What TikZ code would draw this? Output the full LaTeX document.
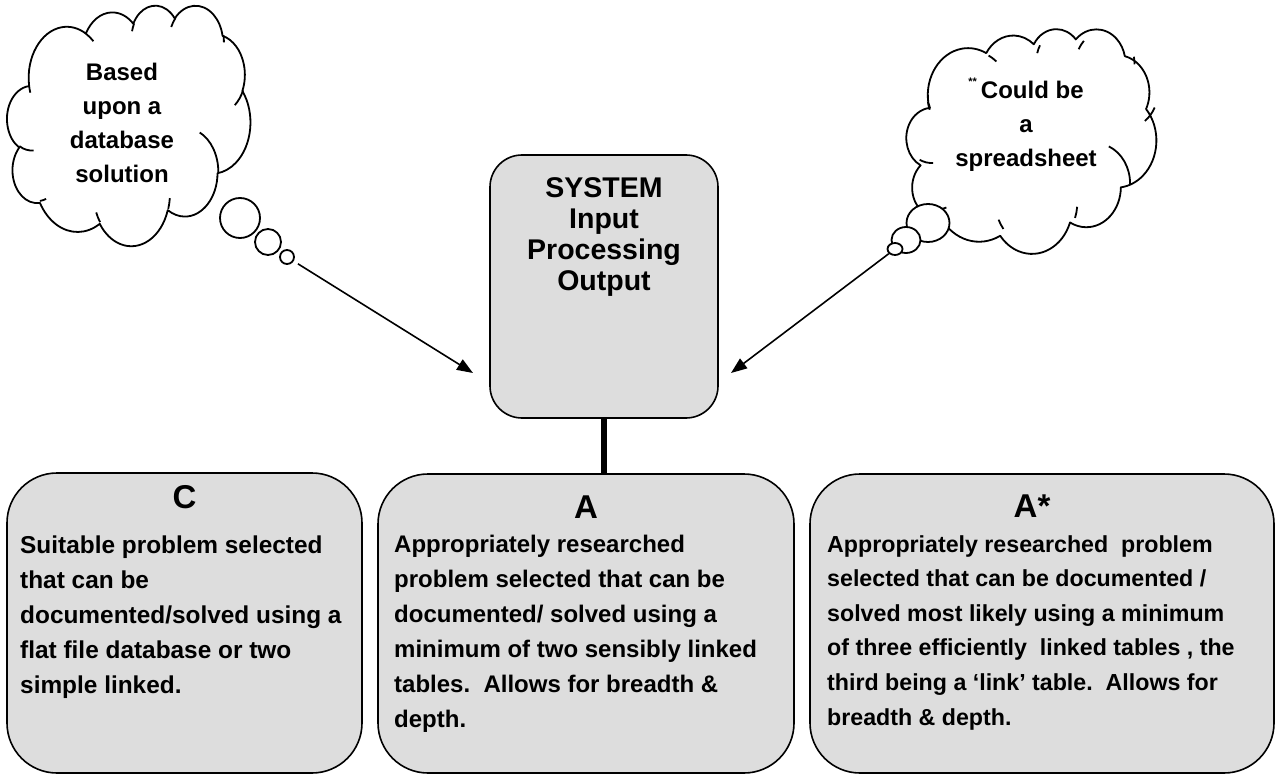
\documentclass[tikz,border=0pt]{standalone}
\usepackage{fontspec}
\setmainfont{Liberation Sans}
\usetikzlibrary{arrows.meta,shapes.geometric}
\definecolor{boxgray}{RGB}{221,221,221}

% ---- Word-style cloud outline (preset geometry, 43200 units) ----
\def\cldpath{}
\newcommand\CldMove[2]{%
  \xdef\cldpath{\cldpath (\fpeval{round(\cldX+(#1)*\cldW/43200,3)},\fpeval{round(\cldY+(#2)*\cldH/43200,3)})}%
}
\newcommand\CldArc[4]{%
  \edef\cldRX{\fpeval{(#1)*\cldW/43200}}%
  \edef\cldRY{\fpeval{(#2)*\cldH/43200}}%
  \edef\cldST{\fpeval{(#3)/60000}}%
  \edef\cldEN{\fpeval{((#3)+(#4))/60000}}%
  \edef\cldA{\fpeval{atand(\cldRX*sind(\cldST),\cldRY*cosd(\cldST))}}%
  \edef\cldB{\fpeval{atand(\cldRX*sind(\cldEN),\cldRY*cosd(\cldEN))}}%
  \edef\cldB{\fpeval{round(((#4)>0) ? ((\cldB<\cldA) ? \cldB+360 : \cldB) : ((\cldB>\cldA) ? \cldB-360 : \cldB),4)}}%
  \edef\cldA{\fpeval{round(\cldA,4)}}%
  \xdef\cldpath{\cldpath arc[x radius=\fpeval{round(\cldRX,3)}, y radius=\fpeval{round(\cldRY,3)}, start angle=\cldA, end angle=\cldB]}%
}
\newcommand\BuildCloud[4]{%
  \def\cldX{#1}\def\cldY{#2}\def\cldW{#3}\def\cldH{#4}%
  \gdef\cldpath{}%
  \CldMove{3900}{14370}%
  \CldArc{6753}{9190}{-11429249}{7426832}%
  \CldArc{5333}{7267}{-8646143}{5396714}%
  \CldArc{4365}{5945}{-8748475}{5983381}%
  \CldArc{4857}{6595}{-7859164}{7034504}%
  \CldArc{5333}{7273}{-4722533}{6541615}%
  \CldArc{6775}{9220}{-2776035}{7816140}%
  \CldArc{5785}{7867}{37501}{6842000}%
  \CldArc{6752}{9215}{1347096}{6910353}%
  \CldArc{7720}{10543}{3974558}{4542661}%
  \CldArc{4360}{5918}{-16496525}{8804134}%
  \CldArc{4345}{5945}{-14809710}{9151131}%
  \xdef\cldouter{\cldpath -- cycle}%
  \gdef\cldpath{}%
  \CldMove{4693}{26177}\CldArc{4345}{5945}{5204520}{1585770}%
  \CldMove{6928}{34899}\CldArc{4360}{5918}{4416628}{686848}%
  \CldMove{16478}{39090}\CldArc{6752}{9215}{8257449}{844866}%
  \CldMove{28827}{34751}\CldArc{6752}{9215}{387196}{959901}%
  \CldMove{34129}{22954}\CldArc{5785}{7867}{-4217541}{4255042}%
  \CldMove{41798}{15354}\CldArc{5333}{7273}{1819082}{1665090}%
  \CldMove{38324}{5426}\CldArc{4857}{6595}{-824660}{891534}%
  \CldMove{29078}{3952}\CldArc{4857}{6595}{-8950887}{1091722}%
  \CldMove{22141}{4720}\CldArc{4365}{5945}{-9809656}{1061181}%
  \CldMove{14000}{5192}\CldArc{6753}{9190}{-4002417}{739161}%
  \CldMove{4127}{15789}\CldArc{6753}{9190}{9459261}{711490}%
  \xdef\cldinner{\cldpath}%
}

\tikzset{
  cloudline/.style={draw=black, line width=1.8pt, line join=round},
  bubble/.style={ellipse, draw=black, fill=white, line width=1.8pt, inner sep=0pt},
  sysbox/.style={draw=black, fill=boxgray, line width=1.6pt, rounded corners=32pt,
                 minimum width=228pt, minimum height=263pt, inner sep=0pt},
  gradebox/.style={draw=black, fill=boxgray, line width=1.6pt, rounded corners=50pt, inner sep=0pt},
  cloudtxt/.style={font=\bfseries\fontsize{24}{24}\selectfont, inner sep=0pt, anchor=base},
  systxt/.style={font=\bfseries\fontsize{28.5}{28.5}\selectfont, inner sep=0pt, anchor=base},
  headtxt/.style={font=\bfseries\fontsize{33}{33}\selectfont, inner sep=0pt, anchor=base},
  bodytxt/.style={font=\bfseries\fontsize{24}{24}\selectfont, inner sep=0pt, anchor=base west},
  arrowline/.style={line width=1.6pt, -{Triangle[length=16pt,width=12pt]}},
  stem/.style={line width=6pt},
}

\begin{document}
\begin{tikzpicture}[x=1pt,y=1pt,yscale=-1]
\useasboundingbox (0,0) rectangle (1276,775);

% ---------- clouds ----------
\BuildCloud{7}{5}{244}{240}
\edef\cldcmd{\noexpand\draw[cloudline, fill=white] \cldouter;}\cldcmd
\edef\cldcmd{\noexpand\draw[cloudline] \cldinner;}\cldcmd

\BuildCloud{905}{29}{258}{221}
\edef\cldcmd{\noexpand\draw[cloudline, fill=white] \cldouter;}\cldcmd
\edef\cldcmd{\noexpand\draw[cloudline] \cldinner;}\cldcmd

% thought bubbles
\node[bubble, minimum width=40pt, minimum height=40pt] (lb1) at (240,218) {};
\node[bubble, minimum width=26pt, minimum height=26pt] (lb2) at (268,242) {};
\node[bubble, minimum width=14pt, minimum height=14pt] (lb3) at (287,257) {};
\node[bubble, minimum width=43pt, minimum height=38pt] (rb1) at (928,223) {};
\node[bubble, minimum width=29pt, minimum height=26pt] (rb2) at (906,240) {};
\node[bubble, minimum width=15pt, minimum height=12pt] (rb3) at (895,249) {};

% cloud texts
\foreach \linetext [count=\i from 0] in {Based, upon a, database, solution}
  \node[cloudtxt] (ltxt\i) at (122, 81+34*\i) {\linetext};
\node[cloudtxt] (rtxt0) at (1026, 99) {\raisebox{13pt}{\fontsize{11}{11}\selectfont **}\,Could be};
\node[cloudtxt] (rtxt1) at (1026, 133) {a};
\node[cloudtxt] (rtxt2) at (1026, 167) {spreadsheet};

% ---------- system box ----------
\node[sysbox] (sys) at (604,286.5) {};
\foreach \linetext [count=\i from 0] in {SYSTEM, Input, Processing, Output}
  \node[systxt] (stxt\i) at (604, 197.5+31*\i) {\linetext};

% arrows
\coordinate (lend) at (473,373);
\coordinate (rend) at (731,373);
\draw[arrowline, shorten <=5pt] (lb3) -- (lend);
\draw[arrowline] (rb3) -- (rend);

% ---------- grade boxes ----------
\node[gradebox, minimum width=355pt, minimum height=300pt] (c) at (184.5,623) {};
\node[gradebox, minimum width=416pt, minimum height=299pt] (a) at (586,623.5) {};
\node[gradebox, minimum width=464pt, minimum height=299pt] (astar) at (1042,623.5) {};

\draw[stem] (sys.south) -- (sys.south |- a.north);

\node[headtxt] (chead) at (184.5,508) {C};
\node[headtxt] (ahead) at (586,518) {A};
\node[headtxt] (ashead) at (1032,517) {A*};

\foreach \linetext [count=\i from 0] in {Suitable problem selected, that can be,
    documented/solved using a, flat file database or two, simple linked.}
  \node[bodytxt, font=\bfseries\fontsize{24.4}{24.4}\selectfont] (cbody\i) at (20, 553+35*\i) {\linetext};

\foreach \linetext [count=\i from 0] in {Appropriately researched, problem selected that can be,
    documented/ solved using a, minimum of two sensibly linked,
    tables.\ \ Allows for breadth \&, depth.}
  \node[bodytxt] (abody\i) at (394, 552+35*\i) {\linetext};

\foreach \linetext [count=\i from 0] in {Appropriately researched\ \ problem,
    selected that can be documented /, solved most likely using a minimum,
    {of three efficiently\ \ linked tables , the}, third being a ‘link’ table.\ \ Allows for,
    breadth \& depth.}
  \node[bodytxt, font=\bfseries\fontsize{23.2}{23.2}\selectfont] (asbody\i) at (827, 552+34.6*\i) {\linetext};

\end{tikzpicture}
\end{document}
